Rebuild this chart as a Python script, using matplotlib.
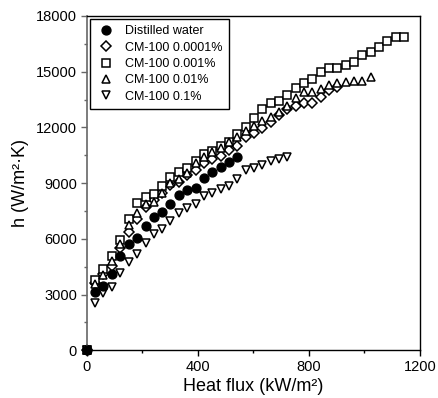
import matplotlib
matplotlib.use("Agg")
import matplotlib.pyplot as plt
from matplotlib.ticker import MultipleLocator

plt.rcParams["font.family"] = ["Liberation Sans", "DejaVu Sans"]

# heat flux (kW/m2) and heat transfer coefficient (W/m2.K)
water_q = [0, 30, 60, 90, 120, 152, 182, 212, 242, 272, 300, 332, 362, 392, 422, 452, 482, 512, 542]
water_h = [0, 3140, 3450, 4080, 5070, 5700, 6050, 6680, 7180, 7420, 7870, 8350, 8620, 8710, 9250,
           9580, 9850, 10120, 10420]

cm_0001_q = [0, 30, 60, 90, 120, 152, 182, 212, 242, 272, 300, 332, 362, 392, 422, 452, 482, 512, 542,
             572, 602, 632, 662, 692, 722, 752, 782, 812, 842, 872, 902]
cm_0001_h = [0, 3630, 4080, 4530, 5480, 6380, 7040, 7690, 8080, 8450, 8890, 9040, 9430, 9700, 10070,
             10290, 10470, 10780, 11010, 11460, 11720, 11950, 12300, 12660, 13000, 13160, 13330, 13310,
             13630, 13990, 14170]

cm_001_q = [0, 30, 60, 90, 120, 152, 182, 212, 242, 272, 300, 332, 362, 392, 422, 452, 482, 512, 542,
            572, 602, 632, 662, 692, 722, 752, 782, 812, 842, 872, 902, 932, 962, 992, 1022, 1052, 1082,
            1112, 1142]
cm_001_h = [0, 3770, 4400, 5070, 5930, 7040, 7940, 8260, 8390, 8850, 9310, 9580, 9790, 10200, 10560,
            10740, 11010, 11230, 11620, 12030, 12520, 12970, 13330, 13420, 13740, 14100, 14410, 14610,
            15000, 15210, 15210, 15360, 15540, 15900, 16080, 16350, 16670, 16850, 16850]

cm_01_q = [0, 30, 60, 90, 120, 152, 182, 212, 242, 272, 300, 332, 362, 392, 422, 452, 482, 512, 542,
           572, 602, 632, 662, 692, 722, 752, 782, 812, 842, 872, 902, 932, 962, 992, 1022]
cm_01_h = [0, 3590, 4040, 4800, 5700, 6740, 7400, 7900, 7990, 8480, 8980, 9200, 9560, 10060, 10380,
           10650, 10900, 11200, 11500, 11800, 12070, 12360, 12540, 12840, 13150, 13600, 13880, 13900,
           14050, 14300, 14400, 14450, 14470, 14500, 14700]

cm_1_q = [0, 30, 60, 90, 120, 152, 182, 212, 242, 272, 300, 332, 362, 392, 422, 452, 482, 512, 540,
          572, 602, 632, 662, 692, 722]
cm_1_h = [0, 2520, 3090, 3380, 4170, 4760, 5160, 5750, 6240, 6520, 6950, 7400, 7670, 7870, 8300,
          8480, 8660, 8840, 9220, 9700, 9790, 9970, 10200, 10290, 10390]

fig = plt.figure(figsize=(4.38, 3.98), dpi=100)
ax = fig.add_axes([0.198, 0.12, 0.761, 0.84])

ms = 6.4
mew = 1.1
ax.plot(water_q, water_h, "o", ms=ms, color="black", mec="black", label="Distilled water", clip_on=False, zorder=5)
ax.plot(cm_0001_q, cm_0001_h, "D", ms=ms - 1.3, mfc="white", mec="black", mew=mew, label="CM-100 0.0001%", clip_on=False)
ax.plot(cm_001_q, cm_001_h, "s", ms=ms, mfc="white", mec="black", mew=mew, label="CM-100 0.001%", clip_on=False)
ax.plot(cm_01_q, cm_01_h, "^", ms=ms, mfc="white", mec="black", mew=mew, label="CM-100 0.01%", clip_on=False)
ax.plot(cm_1_q, cm_1_h, "v", ms=ms, mfc="white", mec="black", mew=mew, label="CM-100 0.1%", clip_on=False)

ax.set_xlim(0, 1200)
ax.set_ylim(0, 18000)
ax.xaxis.set_major_locator(MultipleLocator(400))
ax.xaxis.set_minor_locator(MultipleLocator(200))
ax.yaxis.set_major_locator(MultipleLocator(3000))
ax.yaxis.set_minor_locator(MultipleLocator(1500))

ax.tick_params(which="major", direction="out", length=4, width=1, labelsize=10.5, pad=3)
ax.tick_params(which="minor", direction="out", length=2.5, width=1)
ax.tick_params(axis="y", which="both", color="#666666")

for side in ["top", "right", "bottom"]:
    ax.spines[side].set_color("black")
    ax.spines[side].set_linewidth(1)
ax.spines["left"].set_color("#666666")
ax.spines["left"].set_linewidth(1.2)

ax.set_xlabel("Heat flux (kW/m²)", fontsize=13, labelpad=3)
ax.set_ylabel("h (W/m²·K)", fontsize=13, labelpad=5)

leg = ax.legend(loc="upper left", fontsize=9, frameon=True, fancybox=False, framealpha=1,
                edgecolor="black", borderaxespad=0.25, labelspacing=0.35, handletextpad=0.75,
                handlelength=1.6, borderpad=0.5)
leg.get_frame().set_linewidth(1)

fig.savefig("out.png", dpi=100)
